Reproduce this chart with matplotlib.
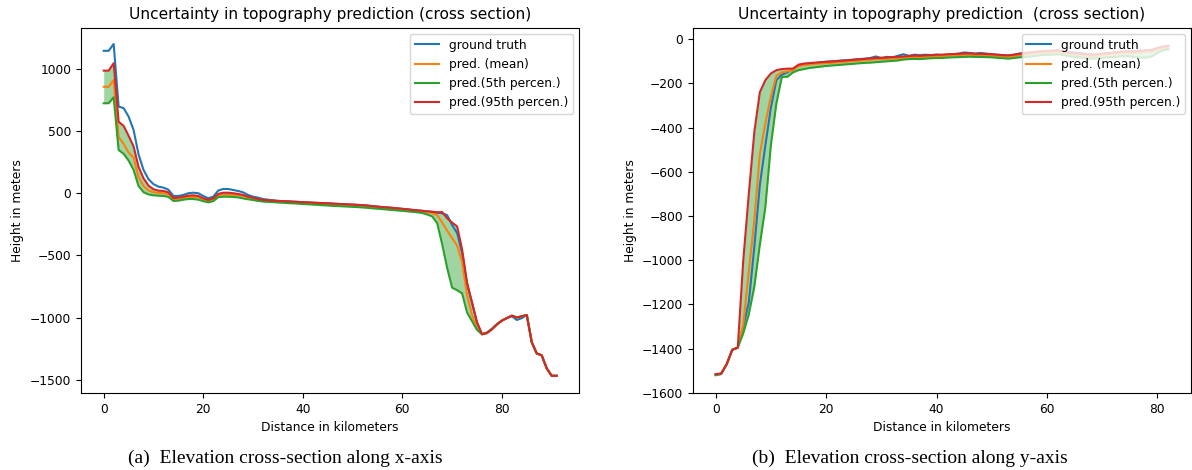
import matplotlib
matplotlib.use("Agg")
import matplotlib.pyplot as plt
import numpy as np

# cross section along x-axis (0..91 km)
km_x = list(range(92))
truth_x = [1150, 1150, 1205, 700, 688, 620, 512, 315, 190, 115,
           75, 55, 47, 30, -20, -20, -12, 2, 6, 2,
           -20, -39, -26, 23, 36, 36, 28, 20, 9, -12,
           -26, -34, -45, -50, -55, -60, -62, -63, -66, -68,
           -70, -72, -75, -76, -78, -79, -82, -84, -86, -88,
           -90, -92, -94, -98, -102, -106, -110, -113, -116, -120,
           -124, -128, -133, -137, -140, -145, -148, -155, -160, -175,
           -255, -320, -480, -730, -880, -1040, -1135, -1120, -1090, -1055,
           -1025, -1005, -990, -1020, -1005, -980, -1200, -1290, -1305, -1410,
           -1470, -1470]
mean_x = [860, 860, 915, 455, 400, 330, 290, 130, 60, 25,
          10, 5, 2, -5, -45, -42, -35, -28, -28, -30,
          -45, -58, -45, -12, -8, -8, -10, -15, -20, -30,
          -40, -48, -55, -58, -61, -63, -65, -67, -69, -71,
          -73, -75, -77, -79, -81, -83, -85, -87, -89, -91,
          -93, -95, -98, -101, -105, -109, -113, -116, -119, -123,
          -127, -131, -135, -140, -145, -150, -158, -175, -235, -300,
          -360, -420, -550, -820, -980, -1090, -1135, -1125, -1095, -1055,
          -1025, -1005, -985, -1000, -990, -980, -1200, -1290, -1305, -1410,
          -1470, -1470]
p5_x = [727, 727, 775, 350, 320, 265, 190, 60, 10, -8,
        -15, -18, -20, -28, -60, -58, -50, -45, -45, -50,
        -62, -72, -62, -30, -26, -26, -28, -32, -40, -47,
        -53, -60, -65, -68, -70, -73, -75, -78, -80, -82,
        -85, -87, -90, -92, -95, -97, -100, -102, -104, -106,
        -108, -110, -113, -116, -120, -123, -126, -130, -133, -137,
        -140, -144, -148, -152, -158, -170, -185, -240, -410, -600,
        -760, -780, -805, -960, -1030, -1100, -1135, -1125, -1095, -1055,
        -1025, -1005, -985, -1000, -990, -980, -1200, -1290, -1305, -1410,
        -1470, -1470]
p95_x = [990, 990, 1050, 578, 545, 465, 380, 215, 122, 63,
         34, 23, 20, 9, -36, -33, -26, -17, -15, -20,
         -39, -52, -39, -4, 6, 6, 2, -4, -12, -26,
         -34, -45, -52, -55, -58, -60, -62, -64, -66, -68,
         -70, -72, -74, -76, -78, -80, -82, -84, -86, -88,
         -90, -92, -95, -98, -102, -106, -110, -113, -116, -120,
         -124, -128, -132, -136, -140, -144, -148, -152, -150, -200,
         -235, -265, -450, -720, -880, -1040, -1135, -1125, -1095, -1055,
         -1025, -1005, -985, -1000, -990, -980, -1200, -1290, -1305, -1410,
         -1470, -1470]

# cross section along y-axis (0..82 km)
km_y = list(range(83))
truth_y = [-1520, -1515, -1470, -1405, -1395, -1300, -1190, -940, -660, -480,
           -310, -185, -160, -150, -135, -120, -115, -112, -108, -105,
           -102, -100, -98, -96, -95, -92, -90, -88, -85, -78,
           -85, -80, -82, -75, -68, -75, -70, -72, -70, -72,
           -70, -72, -70, -68, -65, -60, -62, -65, -62, -65,
           -68, -70, -72, -75, -70, -65, -62, -60, -58, -55,
           -53, -55, -52, -55, -58, -60, -62, -65, -70, -72,
           -68, -65, -62, -60, -58, -55, -55, -52, -50, -55,
           -40, -35, -30]
mean_y = [-1518, -1513, -1470, -1405, -1395, -1290, -1050, -820, -520, -380,
          -260, -165, -150, -145, -140, -122, -117, -114, -112, -110,
          -108, -107, -105, -103, -101, -99, -97, -95, -93, -91,
          -90, -89, -87, -86, -84, -82, -80, -81, -79, -78,
          -76, -76, -74, -73, -72, -70, -70, -72, -72, -73,
          -74, -76, -78, -79, -76, -72, -69, -66, -63, -61,
          -58, -58, -56, -61, -66, -69, -71, -74, -76, -74,
          -71, -69, -66, -64, -61, -61, -62, -60, -56, -54,
          -46, -39, -36]
p5_y = [-1518, -1513, -1470, -1405, -1395, -1330, -1245, -1120, -930, -760,
        -480, -290, -170, -170, -150, -140, -135, -130, -127, -124,
        -121, -119, -117, -115, -113, -111, -109, -107, -106, -104,
        -102, -100, -98, -96, -92, -90, -89, -90, -88, -86,
        -85, -85, -83, -82, -81, -80, -79, -80, -80, -81,
        -82, -84, -86, -88, -85, -82, -80, -78, -75, -72,
        -70, -70, -68, -72, -76, -80, -82, -85, -88, -86,
        -84, -82, -80, -78, -76, -78, -80, -83, -83, -78,
        -62, -50, -45]
p95_y = [-1515, -1512, -1470, -1405, -1395, -1000, -700, -420, -240, -185,
         -155, -140, -135, -133, -133, -115, -110, -108, -106, -104,
         -102, -101, -99, -97, -95, -93, -91, -89, -87, -85,
         -84, -83, -81, -80, -78, -76, -74, -75, -73, -72,
         -70, -70, -68, -67, -66, -64, -64, -66, -66, -67,
         -68, -70, -72, -73, -70, -66, -63, -60, -57, -55,
         -52, -52, -50, -55, -60, -63, -65, -68, -70, -68,
         -65, -63, -60, -58, -55, -55, -55, -53, -50, -48,
         -40, -33, -30]

plt.rcParams["font.size"] = 8.8

fig = plt.figure(figsize=(11.92, 4.70), dpi=100)
ax1 = fig.add_axes([0.068, 0.164, 0.418, 0.777])
ax2 = fig.add_axes([0.5814, 0.164, 0.4178, 0.777])


def draw(ax, km, truth, mean, p5, p95, title, ylim):
    ax.plot(km, truth, color="tab:blue", lw=1.5, label="ground truth")
    ax.plot(km, mean, color="tab:orange", lw=1.5, label="pred. (mean)")
    ax.plot(km, p5, color="tab:green", lw=1.5, label="pred.(5th percen.)")
    ax.plot(km, p95, color="tab:red", lw=1.5, label="pred.(95th percen.)")
    ax.fill_between(km, p5, p95, color="tab:green", alpha=0.45, lw=0)
    ax.set_title(title, fontsize=11.1)
    ax.set_xlabel("Distance in kilometers")
    ax.set_ylabel("Height in meters")
    ax.set_ylim(*ylim)
    ax.legend(loc="upper right")


draw(ax1, km_x, truth_x, mean_x, p5_x, p95_x,
     "Uncertainty in topography prediction (cross section)", (-1608, 1336))
draw(ax2, km_y, truth_y, mean_y, p5_y, p95_y,
     "Uncertainty in topography prediction  (cross section)", (-1600, 52))

fig.text(0.239, 0.015, "(a)  Elevation cross-section along x-axis",
         family="Liberation Serif", fontsize=14, ha="center", va="baseline")
fig.text(0.7635, 0.015, "(b)  Elevation cross-section along y-axis",
         family="Liberation Serif", fontsize=14, ha="center", va="baseline")

fig.savefig("out.png", dpi=100)
